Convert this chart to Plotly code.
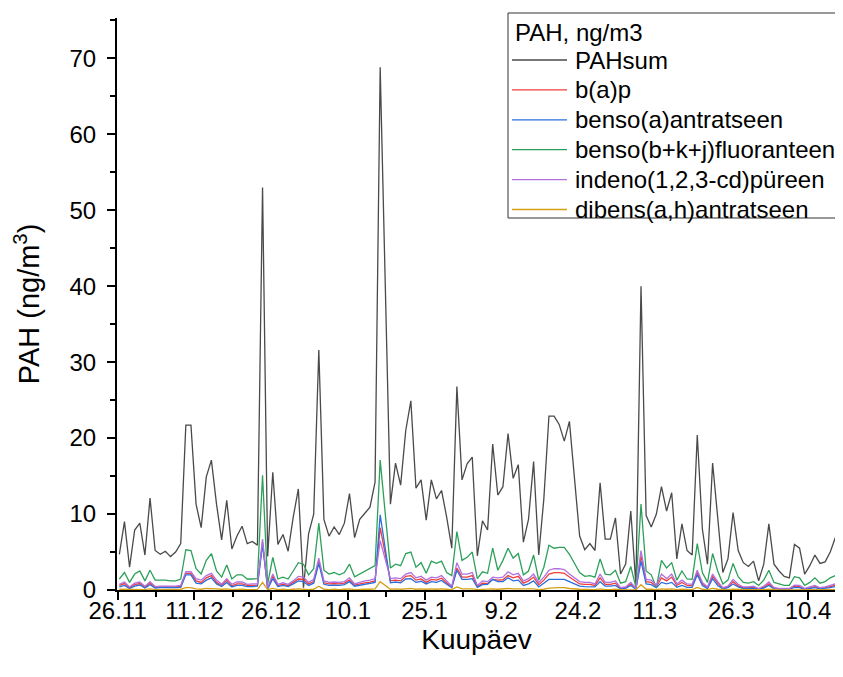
import pandas as pd
import plotly.graph_objects as go

start_date = "2018-11-26 08:00"
n_days = 141
dates = pd.date_range(start_date, periods=n_days, freq="D")

pah_sum = [4.7, 9.0, 3.0, 7.9, 8.8, 4.6, 12.1, 5.2, 4.7, 5.1, 4.4, 5.0, 6.1, 21.7, 21.7, 11.3, 8.2, 14.9, 17.1, 11.3,
           6.6, 11.8, 5.4, 7.1, 8.4, 6.1, 6.4, 5.9, 53.0, 4.4, 15.5, 6.0, 7.3, 5.1, 9.6, 13.3, 0.3, 7.4, 10.0, 31.6,
           9.3, 7.1, 8.3, 7.3, 8.8, 12.7, 6.9, 9.3, 10.1, 10.9, 14.2, 68.8, None, 11.3, 16.7, 13.8, 21.0, 24.9, 13.4, 14.5,
           9.2, 14.5, 12.0, 13.1, 9.6, 5.5, 26.8, 14.5, 16.6, 17.5, 4.5, 9.1, 7.9, 19.2, 12.5, 13.6, 20.6, 14.7, 16.5, 6.3,
           9.3, 16.9, 4.6, 12.0, 22.9, 22.9, 21.8, 19.6, 22.2, None, 7.1, 5.3, 6.1, 5.2, 14.1, 6.7, 6.7, 9.5, 2.1, 3.4,
           10.4, 0.7, 40.0, 9.8, 8.3, 10.0, 13.6, 10.4, 12.8, 4.1, 8.7, 5.2, 4.6, 20.4, 8.0, 3.4, 16.7, 9.3, 2.3, 4.1,
           10.2, 5.2, 3.6, 3.1, 3.8, 1.2, 3.4, 8.7, 3.4, 2.5, 1.8, 1.6, 6.0, 5.5, 2.1, 3.2, 4.6, 3.5, 3.7, 5.0,
           6.9]

bkj_fluoranteen = [1.45, 2.3, 1.0, 2.1, 2.5, 1.2, 2.6, 1.3, 1.3, 1.3, 1.2, 1.2, 1.45, 5.3, 5.2, 2.8, 2.1, 3.9, 4.8, 2.5,
                   1.7, 3.3, 1.45, 2.0, 2.0, 1.45, 1.45, 1.5, 15.1, 0.8, 4.3, 1.45, 1.7, 1.45, 2.5, 3.6, 3.4, 2.0, 2.8, 8.8,
                   2.6, 2.1, 2.3, 2.0, 2.3, 3.4, 1.75, 2.1, 2.5, 2.8, 3.2, 17.1, None, 2.9, 3.4, 3.2, 4.8, 5.0, 3.0, 3.6,
                   2.2, 3.8, 3.5, 3.8, 2.3, 1.9, 7.7, 3.9, 4.3, 5.0, 1.5, 2.4, 2.2, 5.5, 2.6, 3.9, 5.5, 4.2, 4.8, 2.0,
                   2.5, 4.6, 1.3, 3.0, 5.9, 5.5, 5.6, 5.6, 4.7, None, 2.3, 1.8, 1.9, 1.7, 4.1, 2.1, 2.0, 2.6, 0.9, 1.1,
                   3.1, 0.35, 11.3, 2.5, 2.0, 0.35, 3.9, 2.9, 3.6, 1.3, 2.5, 1.45, 1.4, 6.1, 2.3, 1.0, 4.8, 2.5, 0.8, 1.3,
                   3.5, 1.75, 1.0, 0.9, 1.1, 0.6, 1.3, 2.6, 1.0, 0.8, 0.6, 0.6, 1.75, 1.6, 0.6, 1.0, 1.6, 0.9, 1.1, 1.6,
                   1.9]

indeno_pyreen = [0.75, 1.05, 0.4, 0.9, 1.05, 0.5, 1.1, 0.45, 0.5, 0.5, 0.45, 0.5, 0.6, 2.4, 2.4, 1.5, 1.3, 1.9, 2.2, 1.3,
                 0.75, 1.5, 0.75, 1.05, 1.05, 0.75, 0.8, 0.8, 6.7, 0.3, 2.1, 0.75, 0.95, 0.75, 1.2, 1.8, 1.7, 1.0, 1.4, 4.2,
                 1.2, 1.0, 1.05, 1.0, 1.1, 1.6, 0.8, 1.05, 1.2, 1.3, 1.5, 6.5, None, 1.5, 1.6, 1.5, 2.1, 2.3, 1.6, 1.8,
                 1.3, 1.7, 1.6, 1.9, 1.2, 0.5, 3.6, 2.1, 2.1, 2.3, 0.6, 1.2, 1.1, 1.7, 1.6, 1.7, 2.4, 2.0, 2.2, 1.2,
                 1.5, 2.1, 1.0, 1.7, 2.6, 2.8, 2.8, 2.7, 2.1, None, 1.1, 1.0, 1.0, 0.8, 2.1, 1.0, 1.0, 1.2, 0.3, 0.4,
                 1.0, 0.2, 5.2, 1.4, 1.3, 0.6, 2.1, 1.5, 2.1, 0.8, 1.3, 0.8, 0.75, 2.6, 1.0, 0.4, 2.1, 1.1, 0.3, 0.5,
                 1.4, 0.75, 0.4, 0.4, 0.5, 0.2, 0.5, 1.05, 0.3, 0.2, 0.2, 0.2, 0.65, 0.6, 0.2, 0.4, 0.6, 0.3, 0.4, 0.6,
                 0.8]

bap = [0.6, 0.85, 0.3, 0.7, 0.85, 0.35, 0.9, 0.35, 0.4, 0.4, 0.35, 0.4, 0.5, 2.2, 2.2, 1.2, 1.0, 1.6, 1.9, 1.0,
       0.6, 1.3, 0.55, 0.8, 0.8, 0.6, 0.6, 0.65, 6.3, 0.2, 1.8, 0.6, 0.75, 0.6, 1.0, 1.45, 1.4, 0.8, 1.1, 3.8,
       0.95, 0.8, 0.85, 0.8, 0.9, 1.3, 0.65, 0.85, 0.95, 1.05, 1.2, 8.2, None, 1.2, 1.3, 1.2, 1.8, 1.9, 1.3, 1.45,
       1.0, 1.4, 1.3, 1.55, 0.95, 0.4, 2.9, 1.7, 1.7, 1.9, 0.45, 0.9, 0.85, 1.4, 1.3, 1.35, 1.9, 1.6, 1.8, 0.9,
       1.2, 1.7, 0.7, 1.3, 2.1, 2.3, 2.3, 2.2, 1.7, None, 0.8, 0.75, 0.75, 0.6, 1.6, 0.75, 0.75, 0.9, 0.2, 0.3,
       0.8, 0.15, 4.5, 1.1, 1.0, 0.45, 1.6, 1.2, 1.7, 0.6, 1.0, 0.6, 0.55, 2.3, 0.8, 0.3, 1.8, 0.9, 0.2, 0.4,
       1.1, 0.55, 0.3, 0.3, 0.35, 0.15, 0.35, 0.8, 0.25, 0.15, 0.15, 0.15, 0.5, 0.45, 0.15, 0.3, 0.45, 0.25, 0.3, 0.45,
       0.6]

baa = [0.4, 0.6, 0.2, 0.5, 0.65, 0.25, 0.7, 0.25, 0.3, 0.3, 0.25, 0.3, 0.35, 2.0, 2.0, 0.9, 0.8, 1.3, 1.6, 0.8,
       0.45, 1.0, 0.4, 0.6, 0.6, 0.45, 0.45, 0.5, 6.0, 0.15, 1.5, 0.45, 0.6, 0.45, 0.8, 1.2, 1.1, 0.6, 0.9, 3.5,
       0.75, 0.6, 0.65, 0.6, 0.7, 1.1, 0.5, 0.65, 0.75, 0.85, 1.0, 9.9, None, 0.95, 1.05, 0.95, 1.45, 1.5, 1.0, 1.15,
       0.8, 1.1, 1.0, 1.25, 0.75, 0.3, 2.6, 1.4, 1.4, 1.5, 0.35, 0.7, 0.75, 1.4, 1.1, 1.1, 1.6, 1.2, 1.3, 0.6,
       0.8, 1.2, 0.4, 0.9, 1.4, 1.4, 1.4, 1.4, 1.1, None, 0.5, 0.45, 0.45, 0.4, 1.1, 0.5, 0.5, 0.6, 0.15, 0.2,
       0.6, 0.1, 3.8, 0.8, 0.7, 0.3, 1.0, 0.8, 1.0, 0.35, 0.6, 0.35, 0.35, 2.0, 0.6, 0.2, 1.5, 0.6, 0.15, 0.3,
       0.8, 0.4, 0.2, 0.2, 0.25, 0.1, 0.25, 0.6, 0.15, 0.1, 0.1, 0.1, 0.35, 0.3, 0.1, 0.2, 0.3, 0.15, 0.2, 0.3,
       0.45]

dibens = [0.1, 0.1, 0.05, 0.1, 0.1, 0.05, 0.15, 0.05, 0.05, 0.05, 0.05, 0.05, 0.1, 0.3, 0.3, 0.15, 0.1, 0.2, 0.2, 0.15,
          0.1, 0.15, 0.05, 0.1, 0.1, 0.05, 0.05, 0.05, 1.0, 0.05, 0.2, 0.05, 0.1, 0.05, 0.1, 0.15, 0.1, 0.05, 0.1, 0.5,
          0.1, 0.05, 0.1, 0.05, 0.1, 0.15, 0.05, 0.1, 0.1, 0.1, 0.15, 1.1, None, 0.1, 0.15, 0.1, 0.15, 0.2, 0.1, 0.15,
          0.1, 0.15, 0.1, 0.15, 0.1, 0.05, 0.4, 0.15, 0.15, 0.15, 0.05, 0.1, 0.1, 0.15, 0.1, 0.15, 0.2, 0.15, 0.15, 0.1,
          0.1, 0.15, 0.05, 0.1, 0.25, 0.3, 0.3, 0.3, 0.2, None, 0.1, 0.1, 0.1, 0.05, 0.15, 0.05, 0.05, 0.1, 0.05, 0.05,
          0.1, 0.02, 0.7, 0.1, 0.1, 0.05, 0.15, 0.1, 0.15, 0.05, 0.1, 0.05, 0.05, 0.35, 0.1, 0.05, 0.2, 0.1, 0.03, 0.05,
          0.1, 0.05, 0.03, 0.03, 0.03, 0.02, 0.03, 0.1, 0.03, 0.02, 0.02, 0.02, 0.05, 0.05, 0.02, 0.03, 0.05, 0.03, 0.03, 0.05,
          0.05]

series_names = ["PAHsum", "b(a)p", "benso(a)antratseen", "benso(b+k+j)fluoranteen",
                "indeno(1,2,3-cd)püreen", "dibens(a,h)antratseen"]
series_values = [pah_sum, bap, baa, bkj_fluoranteen, indeno_pyreen, dibens]
series_colors = ["#4a4a4a", "#f03c3c", "#2a6fdb", "#2ca05a", "#b070e0", "#d4a017"]
legend_title = "PAH, ng/m3"

tick_dates = ["2018-11-26", "2018-12-11", "2018-12-26", "2019-01-10", "2019-01-25",
              "2019-02-09", "2019-02-24", "2019-03-11", "2019-03-26", "2019-04-10"]
tick_labels = ["26.11", "11.12", "26.12", "10.1", "25.1", "9.2", "24.2", "11.3", "26.3", "10.4"]

FONT = "Liberation Sans, Arial, sans-serif"

# layout geometry (figure pixels); the page adds an 8px body margin
FIG_W, FIG_H = 835, 669
M_L, M_R, M_T, M_B = 109, 7, 10, 87
PLOT_W = FIG_W - M_L - M_R
PLOT_H = FIG_H - M_T - M_B


def px_x(px):
    return (px - M_L) / PLOT_W


def px_y(py):
    return (FIG_H - M_B - py) / PLOT_H


fig = go.Figure()
for name, vals, col in zip(series_names, series_values, series_colors):
    fig.add_trace(go.Scatter(x=dates, y=vals, mode="lines", name=name,
                             line=dict(color=col, width=1.3), connectgaps=True,
                             showlegend=False))

# legend box drawn as a framed panel with line samples and text
box_l, box_r, box_t, box_b = 500, 830, 5, 210
shapes = [dict(type="rect", xref="paper", yref="paper",
               x0=px_x(box_l), x1=px_x(box_r), y0=px_y(box_b), y1=px_y(box_t),
               line=dict(color="#333333", width=1), fillcolor="white", layer="above")]
annotations = [dict(text=legend_title, xref="paper", yref="paper", x=px_x(505), y=px_y(24),
                    xanchor="left", yanchor="middle", showarrow=False,
                    font=dict(size=24, family=FONT, color="black"))]
row0, row_step = 52, 29.9
for k, (name, col) in enumerate(zip(series_names, series_colors)):
    yy = row0 + k * row_step
    shapes.append(dict(type="line", xref="paper", yref="paper",
                       x0=px_x(504), x1=px_x(559), y0=px_y(yy), y1=px_y(yy),
                       line=dict(color=col, width=1.3), layer="above"))
    annotations.append(dict(text=name, xref="paper", yref="paper", x=px_x(565), y=px_y(yy),
                            xanchor="left", yanchor="middle", showarrow=False,
                            font=dict(size=24, family=FONT, color="black")))

fig.update_layout(
    width=FIG_W, height=FIG_H,
    margin=dict(l=M_L, r=M_R, t=M_T, b=M_B),
    paper_bgcolor="white", plot_bgcolor="white",
    font=dict(family=FONT, size=24, color="black"),
    showlegend=False,
    shapes=shapes,
    annotations=annotations,
    xaxis=dict(
        type="date",
        range=["2018-11-25 21:00", "2019-04-15 11:00"],
        tickmode="array", tickvals=tick_dates, ticktext=tick_labels,
        ticks="outside", ticklen=8, tickwidth=2, tickcolor="black",
        showline=True, linewidth=2, linecolor="black",
        showgrid=False, zeroline=False, automargin=False,
        tickfont=dict(size=24), ticklabelstandoff=-10,
        minor=dict(dtick=7.5 * 86400000, tick0="2018-11-26", ticks="outside",
                   ticklen=5, tickwidth=2, tickcolor="black", showgrid=False),
        title=dict(text="Kuupäev", font=dict(size=28), standoff=2),
    ),
    yaxis=dict(
        range=[0, 75.3],
        tickmode="linear", tick0=0, dtick=10,
        ticks="outside", ticklen=8, tickwidth=2, tickcolor="black",
        showline=True, linewidth=2, linecolor="black",
        showgrid=False, zeroline=False, automargin=False,
        tickfont=dict(size=24), ticklabelstandoff=6,
        minor=dict(dtick=5, ticks="outside", ticklen=5, tickwidth=2,
                   tickcolor="black", showgrid=False),
        title=dict(text="PAH (ng/m<sup>3</sup>)", font=dict(size=29), standoff=21),
    ),
)

fig.write_html("out.html")
